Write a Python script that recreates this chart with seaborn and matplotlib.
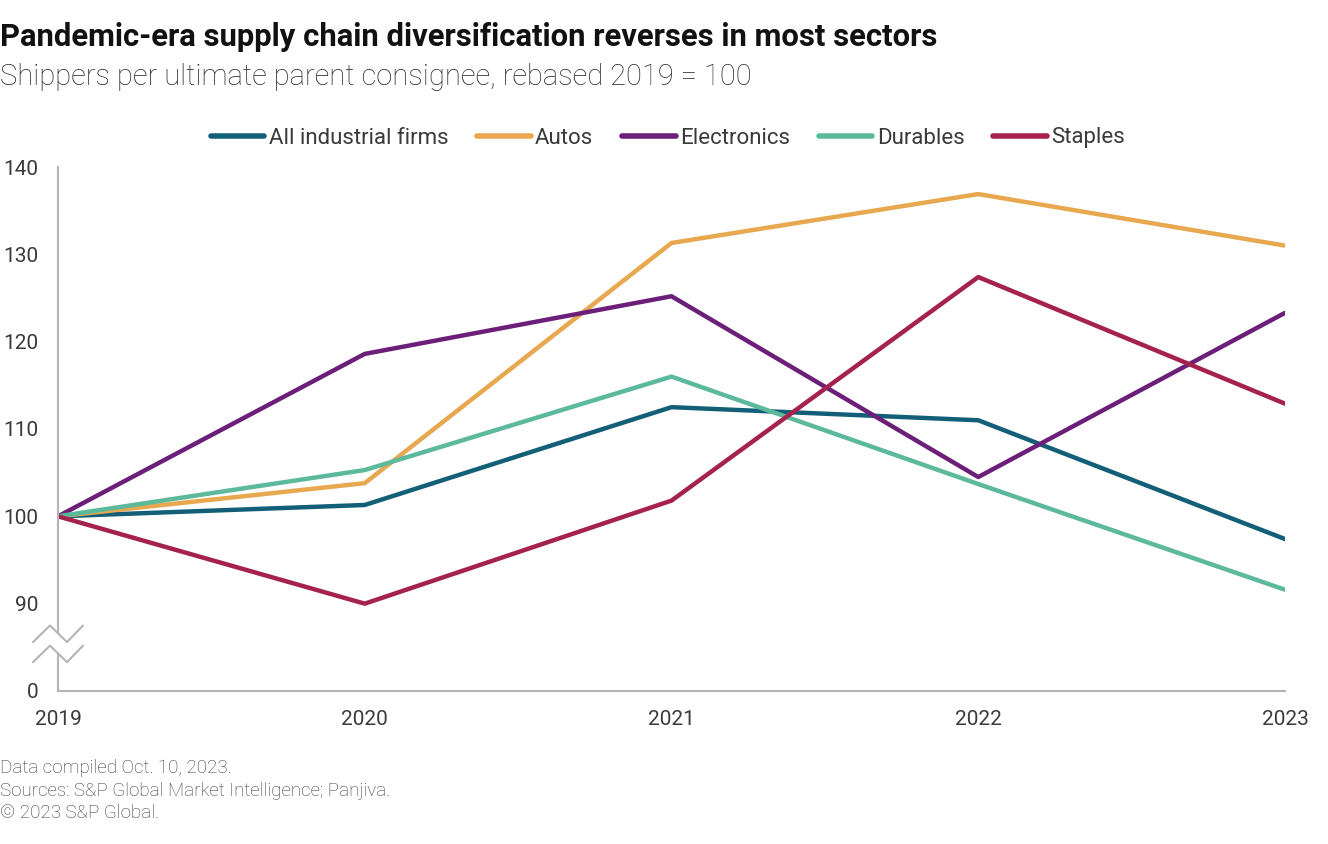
import matplotlib
matplotlib.use("Agg")
import matplotlib.pyplot as plt
import seaborn as sns
import pandas as pd

years = [2019, 2020, 2021, 2022, 2023]
all_industrial = [100, 101.3, 112.5, 111.0, 97.4]
autos = [100, 103.8, 131.3, 136.9, 131.0]
electronics = [100, 118.6, 125.2, 104.5, 123.3]
durables = [100, 105.3, 116.0, 103.7, 91.6]
staples = [100, 90.0, 101.8, 127.4, 112.9]

series_names = ["All industrial firms", "Autos", "Electronics", "Durables", "Staples"]
series_values = [all_industrial, autos, electronics, durables, staples]
colors = ["#135f78", "#e8a850", "#6b1f78", "#5db99c", "#a4224b"]

ytick_values = [80, 90, 100, 110, 120, 130, 140]
ytick_labels = ["0", "90", "100", "110", "120", "130", "140"]

rows = []
for name, vals in zip(series_names, series_values):
    for y, v in zip(years, vals):
        rows.append({"Year": y, "Value": v, "Series": name})
df = pd.DataFrame(rows)

sns.set_theme(style="white")
plt.rcParams["font.family"] = ["Roboto", "DejaVu Sans"]

fig = plt.figure(figsize=(13.28, 8.44), dpi=100)
ax = fig.add_axes([58 / 1328, 1 - 691 / 844, (1285 - 58) / 1328, (691 - 167) / 844])

sns.lineplot(data=df, x="Year", y="Value", hue="Series", hue_order=series_names,
             palette=colors, linewidth=3.2, ax=ax, legend=True)

ax.set_xlim(2019, 2023)
ax.set_ylim(80, 140)
ax.set_xticks(years)
ax.set_xticklabels([str(y) for y in years])
ax.set_yticks(ytick_values)
ax.set_yticklabels(ytick_labels)
ax.set_xlabel("")
ax.set_ylabel("")
ax.tick_params(axis="both", length=0, labelsize=15, colors="#3a3a3a")
ax.tick_params(axis="y", pad=14)
ax.tick_params(axis="x", pad=14)
for s in ["top", "right"]:
    ax.spines[s].set_visible(False)
for s in ["left", "bottom"]:
    ax.spines[s].set_color("#b5b5b5")
    ax.spines[s].set_linewidth(1.5)
ax.grid(False)

# axis break marks
unit = 1.0 / 306.75
bx = [2019 - 25 * unit, 2019 - 8 * unit, 2019 + 9 * unit, 2019 + 25 * unit]
top_y = [85.6, 87.5, 85.6, 87.5]
bot_y = [83.3, 85.2, 83.3, 85.2]
ax.fill_between(bx, bot_y, top_y, color="white", zorder=3, clip_on=False)
ax.plot(bx, top_y, color="#b5b5b5", lw=1.5, zorder=4, clip_on=False)
ax.plot(bx, bot_y, color="#b5b5b5", lw=1.5, zorder=4, clip_on=False)

handles, labels = ax.get_legend_handles_labels()
ax.get_legend().remove()
leg = fig.legend(handles, labels, loc="center", bbox_to_anchor=(668 / 1328, 1 - 138 / 844),
                 ncol=5, frameon=False, fontsize=16, handlelength=2.4, handletextpad=0.2,
                 columnspacing=1.3)
for t in leg.get_texts():
    t.set_color("#3a3a3a")
for h in leg.get_lines():
    h.set_linewidth(4)
    h.set_solid_capstyle("round")

fig.text(0.0, 1 - 37 / 844, "Pandemic-era supply chain diversification reverses in most sectors",
         fontsize=22.3, fontweight="bold", color="#111111", va="center", ha="left")
fig.text(0.0, 1 - 77 / 844, "Shippers per ultimate parent consignee, rebased 2019 = 100",
         fontsize=21, color="#2a2a2a", va="center", ha="left", fontweight="light")
footer = ["Data compiled Oct. 10, 2023.",
          "Sources: S&P Global Market Intelligence; Panjiva.",
          "\u00a9 2023 S&P Global."]
for i, line in enumerate(footer):
    fig.text(0.0, 1 - (768 + 22.5 * i) / 844, line, fontsize=13.5, color="#3a3a3a",
             va="center", ha="left", fontweight="light")

fig.savefig("out.png", dpi=100, facecolor="white")
